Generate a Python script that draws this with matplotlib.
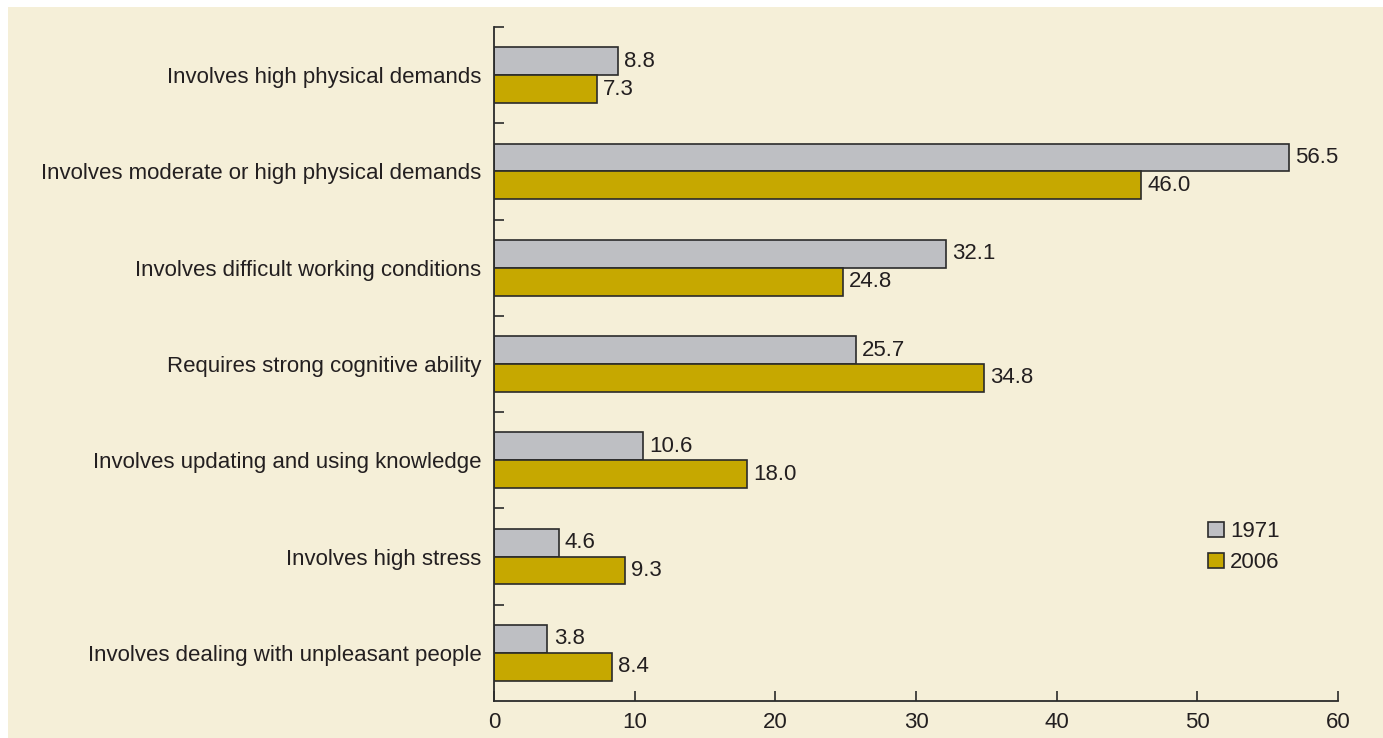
import matplotlib.pyplot as plt
from matplotlib.patches import Rectangle
import numpy as np

# data
categories = ['Involves high physical demands',
              'Involves moderate or high physical demands',
              'Involves difficult working conditions',
              'Requires strong cognitive ability',
              'Involves updating and using knowledge',
              'Involves high stress',
              'Involves dealing with unpleasant people']
vals_1971 = [8.8, 56.5, 32.1, 25.7, 10.6, 4.6, 3.8]
vals_2006 = [7.3, 46.0, 24.8, 34.8, 18.0, 9.3, 8.4]
series_names = ['1971', '2006']
xticks = [0, 10, 20, 30, 40, 50, 60]

bg = '#F5EFD8'
gray = '#BEBFC3'
gold = '#C6A800'
edge = '#2b2b2b'
txt = '#231f20'
fs = 16

plt.rcParams['font.family'] = ['Liberation Sans', 'DejaVu Sans']

fig = plt.figure(figsize=(13.83, 7.38), dpi=100)
fig.patch.set_facecolor('white')
# cream panel, leaving a thin white strip on top and left
fig.patches.append(Rectangle((8 / 1383, 0), 1, 1 - 7 / 738, transform=fig.transFigure,
                             facecolor=bg, edgecolor='none', zorder=-10))

ax = fig.add_axes([494 / 1383, 1 - 701 / 738, (1338 - 494) / 1383, (701 - 27) / 738])
ax.set_facecolor('none')

y = np.arange(len(categories))
h = 0.29
b1 = ax.barh(y - h / 2, vals_1971, height=h, color=gray, edgecolor=edge, linewidth=1.2, label=series_names[0])
b2 = ax.barh(y + h / 2, vals_2006, height=h, color=gold, edgecolor=edge, linewidth=1.2, label=series_names[1])

for bars, vals in [(b1, vals_1971), (b2, vals_2006)]:
    for rect, v in zip(bars, vals):
        ax.annotate('%.1f' % v, (rect.get_width(), rect.get_y() + rect.get_height() / 2),
                    xytext=(4.5, 0), textcoords='offset points', va='center', ha='left',
                    fontsize=fs, color=txt)

ax.set_ylim(len(categories) - 0.5, -0.5)
ax.set_xlim(0, 60)

# category labels as minor ticks at centres, boundary tick marks as major ticks
ax.set_yticks(np.arange(len(categories)) - 0.5)
ax.set_yticklabels([])
ax.set_yticks(y, minor=True)
ax.set_yticklabels(categories, minor=True, fontsize=fs, color=txt)
ax.tick_params(axis='y', which='major', direction='in', length=7, width=1.2, color=edge)
ax.tick_params(axis='y', which='minor', length=0, pad=9)

ax.set_xticks(xticks)
ax.set_xticklabels([str(t) for t in xticks], fontsize=fs, color=txt)
ax.tick_params(axis='x', direction='in', length=7, width=1.2, color=edge, pad=8)

for s in ['top', 'right']:
    ax.spines[s].set_visible(False)
for s in ['left', 'bottom']:
    ax.spines[s].set_linewidth(1.3)
    ax.spines[s].set_color(edge)

leg = ax.legend(loc='upper left', bbox_to_anchor=(0.836, 0.28), frameon=False,
                fontsize=fs, handlelength=0.68, handleheight=0.68, handletextpad=0.3,
                labelspacing=0.45, borderaxespad=0)
for t in leg.get_texts():
    t.set_color(txt)

fig.savefig('out.png', dpi=100, facecolor=fig.get_facecolor())
